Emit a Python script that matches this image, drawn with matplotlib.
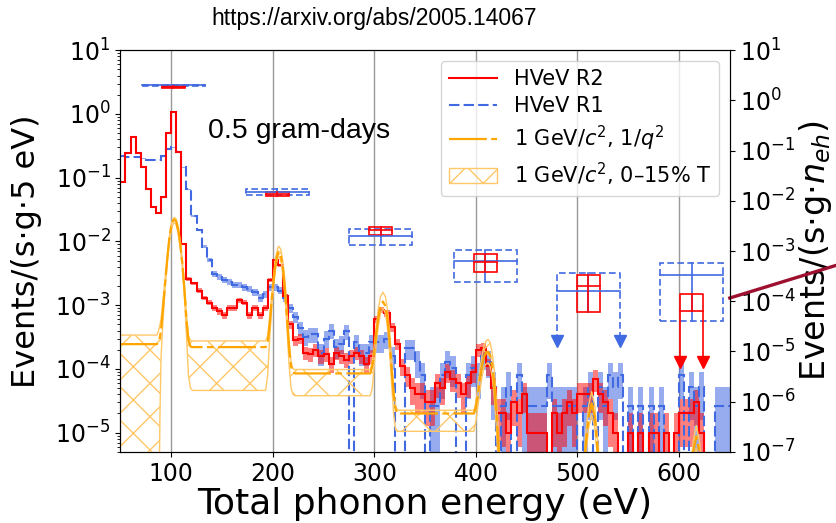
import numpy as np
import matplotlib
matplotlib.use("Agg")
import matplotlib.pyplot as plt
from matplotlib.patches import Patch, Rectangle

# 5 eV bins, 50-650 eV
bin_edges = np.arange(50, 651, 5)

# HVeV R2 rate, events/(s g 5 eV), one value per bin
r2_rate = [
    0.086, 0.245, 0.43, 0.245, 0.148, 0.066, 0.035, 0.028, 0.05, 0.5,
    1.08, 0.255, 0.009, 0.0026, 0.0022, 0.0017, 0.0013, 0.0011, 0.0009, 0.0008,
    0.0007, 0.0009, 0.0009, 0.0012, 0.0011, 0.0007, 0.0009, 0.0007, 0.0009, 0.0025,
    0.0051, 0.0042, 0.0014, 0.0005, 0.00028, 0.0003, 0.00018, 0.00017, 0.0002, 0.00016,
    0.00017, 0.00012, 0.00018, 0.00016, 0.00014, 0.00016, 0.00018, 0.00016, 0.00012, 0.00016,
    0.0006, 0.00085, 0.00075, 0.00045, 0.00025, 0.00011, 0.00008, 0.00005, 0.00004, 0.00004,
    0.00003, 0.00003, 0.00006, 0.00005, 0.00009, 0.00007, 0.00006, 0.00004, 0.00006, 0.00009,
    0.0002, 0.00021, 0.00011, 0.00005, 0.00002, 0.00002, 0.00001, 0.00003, 0.00002, 0.00004,
    0.00001, 0.00001, 0.00001, 0.00001, 0.0, 0.00002, 0.00001, 0.00002, 0.00003, 0.00002,
    0.00004, 0.00004, 0.00004, 0.00007, 0.00004, 0.00003, 0.00002, 0.00001, 0.0, 0.0,
    0.00001, 0.0, 0.00001, 0.0, 0.00001, 0.00001, 0.0, 0.00001, 0.0, 0.00001,
    0.00002, 0.00002, 0.00002, 0.00003, 0.00001, 0.0, 0.0, 0.0, 0.0, 0.0,
]
r2_per_count = 1.0e-5

# HVeV R1 rate
r1_rate = [
    0.22, 0.21, 0.21, 0.21, 0.2, 0.19, 0.19, 0.19, 0.22, 0.28,
    0.3, 0.25, 0.145, 0.066, 0.025, 0.0152, 0.0083, 0.0051, 0.0031, 0.0028,
    0.0025, 0.0023, 0.0021, 0.0021, 0.0019, 0.0018, 0.0016, 0.0013, 0.0015, 0.0019,
    0.0019, 0.0017, 0.0013, 0.0009, 0.00066, 0.00044, 0.00032, 0.00035, 0.00035, 0.00018,
    0.0003, 0.0004, 0.00022, 0.00025, 0.00039, 0.0, 0.00026, 0.00018, 0.00018, 0.00026,
    0.00026, 0.00026, 0.00029, 0.00016, 0.0, 0.0, 0.00021, 0.00021, 0.00013, 0.00008,
    0.0, 0.000026, 0.000026, 0.000079, 0.00013, 0.000105, 0.0, 0.0, 0.000079, 0.000105,
    0.000079, 0.00016, 0.00013, 0.000053, 0.0, 0.000026, 0.000053, 0.0, 0.000079, 0.000026,
    0.000026, 0.000026, 0.000026, 0.000026, 0.000079, 0.000026, 0.000026, 0.000026, 0.000026, 0.000026,
    0.0, 0.000026, 0.000053, 0.0, 0.000053, 0.000026, 0.000079, 0.000053, 0.000079, 0.0,
    0.000026, 0.0, 0.000026, 0.0, 0.000026, 0.0, 0.000026, 0.0, 0.0, 0.0,
    0.000079, 0.0, 0.000053, 0.000026, 0.000053, 0.0, 0.0, 0.000026, 0.000026, 0.000026,
]
r1_per_count = 2.63e-5

# 1 GeV/c^2 model (1/q^2) and its 0-15% T band, read at these energies
model_e = [
    50, 86, 88, 89, 90, 92, 94, 96, 98, 100, 102, 103.5, 105, 107, 109, 111, 113, 115, 117, 119, 121,
    193, 195, 197, 199, 201, 203, 205, 206, 208, 210, 212, 214, 216, 218, 220, 222,
    296, 298, 300, 302, 304, 306, 308.5, 311, 313, 315, 317, 319, 321, 323,
    398, 400, 402, 404, 406, 408, 410, 412, 414, 416, 418, 420, 422, 424, 430,
    500, 505, 508, 511, 514, 517, 520, 523, 528,
    605, 610, 614, 617, 620, 624, 630, 650,
]
model_rate = [
    2.45e-4, 2.45e-4, 2.7e-4, 3.2e-4, 4e-4, 9e-4, 2.2e-3, 5e-3, 0.0105, 0.017, 0.0215, 0.022, 0.0205, 0.015, 0.009, 0.0045, 0.0018, 6e-4, 2.8e-4, 2.25e-4, 2.2e-4,
    2.2e-4, 2.6e-4, 5e-4, 1.2e-3, 2.6e-3, 4.7e-3, 6.6e-3, 6.9e-3, 6e-3, 3.8e-3, 1.8e-3, 6.5e-4, 2.2e-4, 1.1e-4, 8.8e-5, 8.5e-5,
    8.5e-5, 1.1e-4, 1.9e-4, 3.7e-4, 6.5e-4, 9.6e-4, 1.14e-3, 9.6e-4, 6e-4, 2.8e-4, 1e-4, 4e-5, 2.3e-5, 2e-5,
    2e-5, 2.5e-5, 4e-5, 7e-5, 1.1e-4, 1.55e-4, 1.8e-4, 1.86e-4, 1.65e-4, 1.15e-4, 6e-5, 2.3e-5, 7e-6, 2e-6, 1e-8,
    1e-8, 1e-6, 6e-6, 1.8e-5, 2.9e-5, 1.8e-5, 5e-6, 1e-6, 1e-8,
    1e-8, 1e-6, 5e-6, 8.7e-6, 5e-6, 1e-6, 1e-8, 1e-8,
]
band_lo = [
    1e-8, 1e-8, 1e-6, 2e-5, 1.5e-4, 6e-4, 1.8e-3, 4.3e-3, 9.3e-3, 0.015, 0.019, 0.0195, 0.018, 0.013, 0.0078, 0.0038, 0.0014, 3.5e-4, 8e-5, 5e-5, 4.6e-5,
    4.6e-5, 8e-5, 3e-4, 9e-4, 2.1e-3, 4e-3, 5.6e-3, 5.9e-3, 5e-3, 3.1e-3, 1.4e-3, 4.5e-4, 1.2e-4, 5e-5, 4e-5, 3.8e-5,
    3.8e-5, 5e-5, 1.2e-4, 2.6e-4, 4.8e-4, 7.4e-4, 9e-4, 7.4e-4, 4.4e-4, 1.9e-4, 6e-5, 2e-5, 1.1e-5, 1.05e-5,
    1.05e-5, 1.5e-5, 2.6e-5, 4.6e-5, 7.5e-5, 1.05e-4, 1.2e-4, 1.25e-4, 1.1e-4, 7.5e-5, 3.8e-5, 1.3e-5, 3e-6, 8e-7, 1e-8,
    1e-8, 6e-7, 4e-6, 1.2e-5, 1.9e-5, 1.2e-5, 3.3e-6, 6e-7, 1e-8,
    1e-8, 6e-7, 3.3e-6, 5.7e-6, 3.3e-6, 6e-7, 1e-8, 1e-8,
]
band_hi = [
    3.4e-4, 3.4e-4, 4.2e-4, 5e-4, 6e-4, 1.2e-3, 2.6e-3, 5.6e-3, 0.0115, 0.0185, 0.0232, 0.0238, 0.0222, 0.0165, 0.01, 0.0051, 0.0021, 7.5e-4, 3.3e-4, 2.8e-4, 2.75e-4,
    2.75e-4, 3.3e-4, 6.5e-4, 1.5e-3, 3.2e-3, 5.7e-3, 8e-3, 8.4e-3, 7.5e-3, 4.8e-3, 2.4e-3, 8.5e-4, 3e-4, 1.3e-4, 1e-4, 9.8e-5,
    9.8e-5, 1.3e-4, 2.4e-4, 4.8e-4, 8.8e-4, 1.35e-3, 1.6e-3, 1.35e-3, 8.5e-4, 4e-4, 1.5e-4, 5e-5, 2.6e-5, 2.25e-5,
    2.25e-5, 3e-5, 5.5e-5, 1e-4, 1.6e-4, 2.3e-4, 2.75e-4, 2.9e-4, 2.6e-4, 1.8e-4, 9.5e-5, 3.7e-5, 1.1e-5, 3e-6, 1e-8,
    1e-8, 1.6e-6, 9e-6, 2.7e-5, 4.4e-5, 2.7e-5, 7.5e-6, 1.6e-6, 1e-8,
    1e-8, 1.6e-6, 7.5e-6, 1.3e-5, 7.5e-6, 1.6e-6, 1e-8, 1e-8,
]

# per-peak rates, events/(s g n_eh) (right axis)
peak_e = [102, 204.5, 306.5, 409, 510.6, 612.5]
r1_box_half = 31
r1_box_lo = [1.95, 0.0130, 1.31e-3, 2.41e-4, 6.1e-5, 4.1e-5]
r1_box_mid = [2.0, 0.0149, 1.99e-3, 6.3e-4, 1.6e-4, 3.3e-4]
r1_box_hi = [2.05, 0.0171, 2.74e-3, 1.05e-3, 3.65e-4, 5.85e-4]
r1_limit_tip = [None, None, None, None, 1.6e-5, None]
r2_box_half = 11.3
r2_box_lo = [1.78, 0.0124, 2.08e-3, 3.8e-4, 6.1e-5, 6.4e-5]
r2_box_mid = [1.84, 0.0136, 2.62e-3, 6.0e-4, 2.0e-4, 6.4e-5]
r2_box_hi = [1.90, 0.0149, 3.0e-3, 8.7e-4, 3.33e-4, 1.37e-4]
r2_limit_tip = [None, None, None, None, None, 6.3e-6]

# curve running off the right edge of the frame
offscale_e = [650, 760]
offscale_rate = [1.16e-4, 5.6e-4]

RED = "red"
BLUE = "royalblue"
ORANGE = "orange"
HATCH = "#ffc766"
FLOOR = 1e-12


def poisson_band(rate, per_count):
    n = np.asarray(rate) / per_count
    lo = np.clip(n - np.sqrt(n), 0, None) * per_count
    hi = (n + np.sqrt(n)) * per_count
    return np.maximum(lo, FLOOR), np.maximum(hi, FLOOR)


def draw_box(ax, x0, half, lo, mid, hi, tip, color, ls):
    xl, xr = x0 - half, x0 + half
    if tip is None:
        ax.add_patch(Rectangle((xl, lo), 2 * half, hi - lo, fill=False,
                               edgecolor=color, lw=1.2, ls=ls))
    else:
        ax.plot([xl, xl, xr, xr], [tip, hi, hi, tip], color=color, lw=1.2,
                ls=ls)
        # arrow heads pointing down at the limit tips
        ax.plot([xl, xr], [tip, tip], ls="none", marker="v", ms=8,
                color=color)
    ax.plot([x0, x0], [lo, hi], color=color, lw=1.2)
    ax.plot([xl, xr], [mid, mid], color=color, lw=1.2)


fig = plt.figure(figsize=(8.36, 5.23), dpi=100)
ax = fig.add_axes([0.144, 0.136, 0.729, 0.768])

r2 = np.maximum(np.array(r2_rate), FLOOR)
r1 = np.maximum(np.array(r1_rate), FLOOR)
r2_lo, r2_hi = poisson_band(r2_rate, r2_per_count)
r1_lo, r1_hi = poisson_band(r1_rate, r1_per_count)

ax.stairs(r1_hi, bin_edges, baseline=r1_lo, fill=True, color=BLUE,
          alpha=0.55, lw=0, zorder=2)
ax.stairs(r2_hi, bin_edges, baseline=r2_lo, fill=True, color=RED,
          alpha=0.5, lw=0, zorder=2.1)
ax.stairs(r1, bin_edges, baseline=None, color=BLUE, lw=1.5,
          ls=(0, (5, 2)), zorder=3)
ax.stairs(r2, bin_edges, baseline=None, color=RED, lw=1.5, zorder=3.1)

ax.fill_between(model_e, band_lo, band_hi, facecolor="none",
                edgecolor=HATCH, hatch="x", lw=1, zorder=3.5)
ax.plot(model_e, model_rate, color=ORANGE, lw=1.6,
        ls=(0, (17, 2, 3, 2)), zorder=4)

ax.set_yscale("log")
ax.set_xlim(50, 650)
ax.set_ylim(5e-6, 10)
ax.set_xticks([100, 200, 300, 400, 500, 600])
ax.xaxis.grid(True, color="gray", lw=1, alpha=0.8)
ax.tick_params(labelsize=17)
ax.set_xlabel("Total phonon energy (eV)", fontsize=26, labelpad=1)
ax.set_ylabel("Events/(s·g·5 eV)", fontsize=23, labelpad=9)
ax.yaxis.set_major_locator(matplotlib.ticker.LogLocator(numticks=20))

ax.text(0.144, 0.80, "0.5 gram-days", transform=ax.transAxes,
        fontsize=20.5, fontfamily="Liberation Sans", va="center", ha="left")

handles = [
    plt.Line2D([], [], color=RED, lw=1.5),
    plt.Line2D([], [], color=BLUE, lw=1.5, ls=(0, (5, 2))),
    plt.Line2D([], [], color=ORANGE, lw=1.6, ls=(0, (17, 2, 3, 2))),
    Patch(facecolor="none", edgecolor=HATCH, hatch="x"),
]
labels = ["HVeV R2", "HVeV R1", r"1 GeV/$c^2$, 1/$q^2$",
          r"1 GeV/$c^2$, 0–15% T"]
ax.legend(handles, labels, loc="upper right", fontsize=15,
          handlelength=2.3, labelspacing=0.36)

ax2 = ax.twinx()
ax2.set_yscale("log")
ax2.set_ylim(1e-7, 10)
ax2.yaxis.set_major_locator(matplotlib.ticker.LogLocator(numticks=20))
ax2.tick_params(labelsize=17)
ax2.set_ylabel(r"Events/(s·g·$n_{eh}$)", fontsize=24, rotation=90,
               labelpad=1)

for i, x0 in enumerate(peak_e):
    draw_box(ax2, x0, r1_box_half, r1_box_lo[i], r1_box_mid[i],
             r1_box_hi[i], r1_limit_tip[i], BLUE, (0, (4, 2)))
    draw_box(ax2, x0, r2_box_half, r2_box_lo[i], r2_box_mid[i],
             r2_box_hi[i], r2_limit_tip[i], RED, "-")

ax2.plot(offscale_e, offscale_rate, color="#9e1030", lw=2.4, clip_on=False)
ax2.set_xlim(50, 650)

fig.text(0.447, 0.965, "https://arxiv.org/abs/2005.14067",
         fontfamily="Liberation Sans", fontsize=16.5, ha="center",
         va="center")

fig.savefig("out.png", dpi=100)
